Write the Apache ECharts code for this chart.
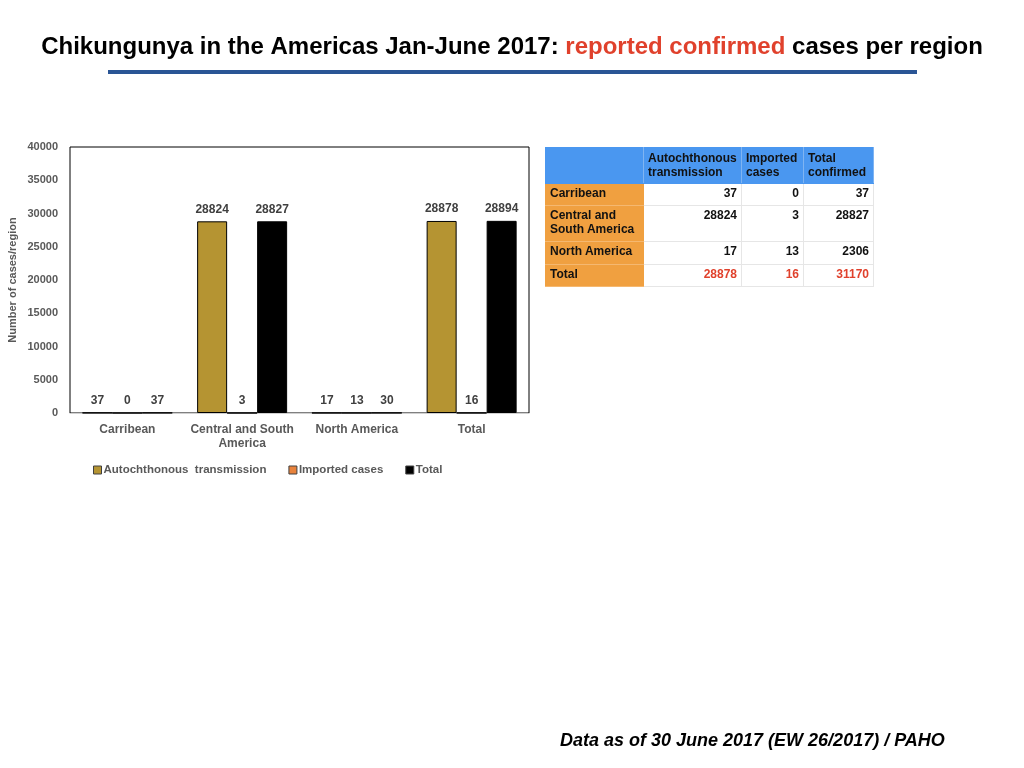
<!DOCTYPE html>
<html>
<head>
<meta charset="utf-8">
<script src="https://cdn.jsdelivr.net/npm/echarts@6/dist/echarts.min.js"></script>
<style>
    html, body { margin: 0; padding: 0; background: #fff; }
    #main { position: relative; width: 1024px; height: 768px; }
    #chart { position: absolute; left: 0; top: 0; width: 1024px; height: 768px; }
    #tbl {
        position: absolute; left: 545px; top: 147px;
        border-collapse: collapse; table-layout: fixed;
        font-family: "Liberation Sans", Arial, sans-serif;
        font-size: 12px; font-weight: bold; color: #111;
    }
    #tbl td { border: 1px solid #e6e6e6; padding: 2px 4px; vertical-align: top; line-height: 14px; }
    #tbl tr.head td { background: #4a97f0; border-color: #4a97f0; border-right-color: #7fb4f2; padding-top: 3px; }
    #tbl td.rowname { background: #f0a040; border-color: #f0a040; border-bottom-color: #f5b870; }
    #tbl td.num { text-align: right; }
    #tbl tr.total td.num { color: #e0412c; }
</style>
</head>
<body>
<div id="main">
    <div id="chart"></div>
    <table id="tbl"></table>
</div>
<script>
    // 数据
    var categories = ['Carribean', 'Central and South\nAmerica', 'North America', 'Total'];
    var autochthonous = [37, 28824, 17, 28878];
    var imported = [0, 3, 13, 16];
    var totals = [37, 28827, 30, 28894];
    var yTicks = [0, 5000, 10000, 15000, 20000, 25000, 30000, 35000, 40000];

    // 表格数据
    var tableHead = ['', 'Autochthonous\ntransmission', 'Imported\ncases', 'Total\nconfirmed'];
    var tableRows = ['Carribean', 'Central and\nSouth America', 'North America', 'Total'];
    var tableAuto = [37, 28824, 17, 28878];
    var tableImported = [0, 3, 13, 16];
    var tableTotal = [37, 28827, 2306, 31170];

    // 表格
    var colW = [98, 98, 62, 70];
    var rowH = [36, 22, 36, 23, 22];
    var html = '<colgroup>';
    colW.forEach(function (w) { html += '<col style="width:' + w + 'px">'; });
    html += '</colgroup><tr class="head" style="height:' + rowH[0] + 'px">';
    tableHead.forEach(function (h) { html += '<td>' + h.replace('\n', '<br>') + '</td>'; });
    html += '</tr>';
    tableRows.forEach(function (r, i) {
        var cls = i === tableRows.length - 1 ? ' class="total"' : '';
        html += '<tr' + cls + ' style="height:' + rowH[i + 1] + 'px">' +
            '<td class="rowname">' + r.replace('\n', '<br>') + '</td>' +
            '<td class="num">' + tableAuto[i] + '</td>' +
            '<td class="num">' + tableImported[i] + '</td>' +
            '<td class="num">' + tableTotal[i] + '</td></tr>';
    });
    document.getElementById('tbl').innerHTML = html;

    var font = '"Liberation Sans", Arial, sans-serif';
    var labelStyle = {
        show: true,
        position: 'top',
        distance: 6,
        fontFamily: font,
        fontSize: 12,
        fontWeight: 'bold',
        color: '#404040'
    };

    var chart = echarts.init(document.getElementById('chart'));
    var option = {
        backgroundColor: '#fff',
        animation: false,
        title: [
            {
                text: '{b|Chikungunya in the Americas Jan-June 2017: }{r|reported confirmed}{b| cases per region}',
                left: 'center',
                top: 30,
                textStyle: {
                    rich: {
                        b: { fontFamily: font, fontSize: 24, fontWeight: 'bold', color: '#000' },
                        r: { fontFamily: font, fontSize: 24, fontWeight: 'bold', color: '#e0412c' }
                    }
                }
            },
            {
                text: 'Data as of 30 June 2017 (EW 26/2017) / PAHO',
                left: 555,
                top: 727,
                textStyle: { fontFamily: font, fontSize: 18, fontWeight: 'bold', fontStyle: 'italic', color: '#000' }
            }
        ],
        graphic: [
            {
                type: 'rect',
                shape: { x: 108, y: 70, width: 809, height: 4 },
                style: { fill: '#2a5595' }
            }
        ],
        legend: {
            data: ['Autochthonous  transmission', 'Imported cases', 'Total'],
            left: 88,
            top: 459,
            itemWidth: 8,
            itemHeight: 8,
            itemGap: 22,
            icon: 'rect',
            itemStyle: { borderColor: '#404040', borderWidth: 1 },
            textStyle: { fontFamily: font, fontSize: 11.5, fontWeight: 'bold', color: '#595959', padding: [0, 0, 0, -3] }
        },
        grid: {
            left: 70,
            right: 495,
            top: 147,
            bottom: 355,
            show: true,
            borderColor: '#000',
            borderWidth: 1
        },
        xAxis: {
            type: 'category',
            data: categories,
            axisLine: { lineStyle: { color: '#d0d0d0' } },
            axisTick: { show: false },
            axisLabel: {
                fontFamily: font, fontSize: 12, fontWeight: 'bold', color: '#595959',
                margin: 10, lineHeight: 14, interval: 0
            }
        },
        yAxis: {
            type: 'value',
            min: yTicks[0],
            max: yTicks[yTicks.length - 1],
            interval: yTicks[1] - yTicks[0],
            name: 'Number of cases/region',
            nameLocation: 'middle',
            nameGap: 52,
            nameTextStyle: { fontFamily: font, fontSize: 11, fontWeight: 'bold', color: '#595959' },
            axisLine: { show: false },
            axisTick: { show: false },
            splitLine: { show: false },
            axisLabel: {
                fontFamily: font, fontSize: 11, fontWeight: 'bold', color: '#595959', margin: 12,
                formatter: function (v) { return String(v); }
            }
        },
        series: [
            {
                name: 'Autochthonous  transmission',
                type: 'bar',
                barWidth: 30,
                barGap: '0%',
                data: autochthonous,
                label: labelStyle,
                itemStyle: { color: '#b59432', borderColor: '#000', borderWidth: 1 }
            },
            {
                name: 'Imported cases',
                type: 'bar',
                barWidth: 30,
                barGap: '0%',
                data: imported,
                label: labelStyle,
                itemStyle: { color: '#e8823c', borderColor: '#000', borderWidth: 1 }
            },
            {
                name: 'Total',
                type: 'bar',
                barWidth: 30,
                barGap: '0%',
                data: totals,
                label: labelStyle,
                itemStyle: { color: '#000', borderColor: '#000', borderWidth: 1 }
            }
        ]
    };
    chart.setOption(option);
</script>
</body>
</html>
